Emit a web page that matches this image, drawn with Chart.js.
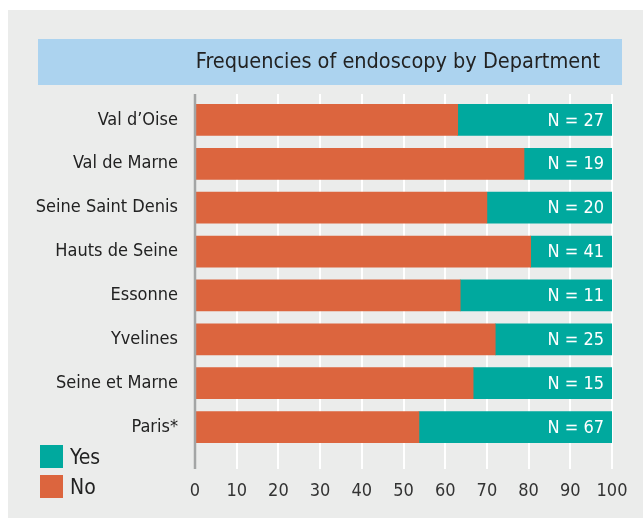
<!DOCTYPE html>
<html><head><meta charset="utf-8">
<script src="https://cdn.jsdelivr.net/npm/chart.js@4.4.1/dist/chart.umd.min.js"></script>
<style>html,body{margin:0;padding:0;background:#fff;}#wrap{width:643px;height:518px;position:relative;}</style>
</head><body><div id="wrap"><canvas id="c" width="643" height="518"></canvas></div>
<script>
const categories = ["Val d’Oise", "Val de Marne", "Seine Saint Denis", "Hauts de Seine", "Essonne", "Yvelines", "Seine et Marne", "Paris*"];
const noValues = [63.0, 78.9, 70.0, 80.5, 63.6, 72.0, 66.7, 53.7];
const yesValues = [37.0, 21.1, 30.0, 19.5, 36.4, 28.0, 33.3, 46.3];
const nLabels = ["N = 27", "N = 19", "N = 20", "N = 41", "N = 11", "N = 25", "N = 15", "N = 67"];
const seriesNames = ["No", "Yes"];
const titleText = "Frequencies of endoscopy by Department";

const FONT = "'Liberation Sans Narrow', 'DejaVu Sans Condensed', 'Open Sans', sans-serif";
const ORANGE = '#dc653e', TEAL = '#00a99e';

const decor = {
  id: 'decor',
  beforeDraw(chart) {
    const ctx = chart.ctx;
    ctx.save();
    ctx.fillStyle = '#ffffff';
    ctx.fillRect(0, 0, chart.width, chart.height);
    ctx.fillStyle = '#ebeceb';
    ctx.fillRect(8, 10, chart.width - 8, chart.height - 10);
    ctx.fillStyle = '#acd3ef';
    ctx.fillRect(38, 39, 584, 46);
    ctx.fillStyle = '#222222';
    ctx.font = "21.5px " + FONT;
    ctx.textAlign = 'right';
    ctx.textBaseline = 'middle';
    ctx.fillText(titleText, 600, 62);
    ctx.restore();
  },
  beforeDatasetsDraw(chart) {
    const ctx = chart.ctx, xs = chart.scales.x;
    ctx.save();
    ctx.strokeStyle = '#ffffff';
    ctx.lineWidth = 2;
    xs.ticks.forEach(t => {
      const x = Math.round(xs.getPixelForValue(t.value));
      ctx.beginPath(); ctx.moveTo(x, 94); ctx.lineTo(x, 469); ctx.stroke();
    });
    ctx.restore();
  },
  afterDatasetsDraw(chart) {
    const ctx = chart.ctx, xs = chart.scales.x;
    ctx.save();
    const x0 = xs.getPixelForValue(0);
    ctx.strokeStyle = '#a3a5a5';
    ctx.lineWidth = 2.5;
    ctx.beginPath(); ctx.moveTo(x0, 94); ctx.lineTo(x0, 469); ctx.stroke();
    const meta = chart.getDatasetMeta(1);
    ctx.fillStyle = '#ffffff';
    ctx.font = "18px " + FONT;
    ctx.textAlign = 'right';
    ctx.textBaseline = 'middle';
    meta.data.forEach((el, i) => {
      ctx.fillText(nLabels[i], el.x - 8, el.y + 1);
    });
    // legend (Yes above No)
    const order = [1, 0];
    ctx.font = "21px " + FONT;
    ctx.textAlign = 'left';
    order.forEach((di, k) => {
      const ds = chart.data.datasets[di];
      const y = 445 + k * 30;
      ctx.fillStyle = ds.backgroundColor;
      ctx.fillRect(40, y, 23, 23);
      ctx.fillStyle = '#222222';
      ctx.fillText(ds.label, 70, y + 14);
    });
    ctx.restore();
  }
};

new Chart(document.getElementById('c'), {
  type: 'bar',
  data: {
    labels: categories,
    datasets: [
      { label: seriesNames[0], data: noValues, backgroundColor: ORANGE, barThickness: 31 },
      { label: seriesNames[1], data: yesValues, backgroundColor: TEAL, barThickness: 31 }
    ]
  },
  options: {
    indexAxis: 'y',
    responsive: false,
    animation: false,
    layout: { padding: { left: 0, right: 31, top: 98, bottom: 8 } },
    plugins: { legend: { display: false }, tooltip: { enabled: false }, title: { display: false } },
    scales: {
      x: {
        stacked: true, min: 0, max: 100,
        ticks: { stepSize: 10, color: '#333333', font: { family: FONT, size: 18 }, padding: 32, maxRotation: 0 },
        grid: { display: false, drawTicks: false },
        border: { display: false },
        afterFit(s) { s.height = 61; s.paddingLeft = 0; s.paddingRight = 0; }
      },
      y: {
        stacked: true,
        ticks: { color: '#222222', font: { family: FONT, size: 18 }, padding: 17 },
        grid: { display: false, drawTicks: false },
        border: { display: false },
        afterFit(s) { s.width = 195; s.paddingTop = 0; s.paddingBottom = 0; }
      }
    }
  },
  plugins: [decor]
});
</script></body></html>
